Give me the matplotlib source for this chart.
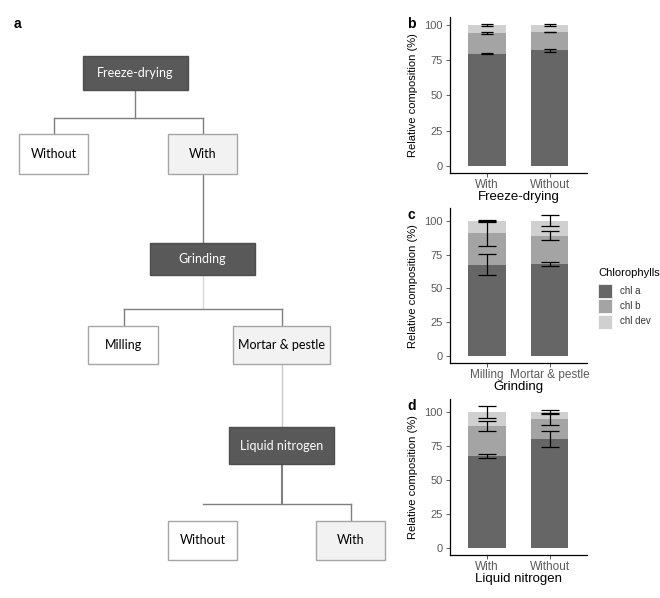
import matplotlib
matplotlib.use("Agg")
import matplotlib.pyplot as plt
from matplotlib.patches import Rectangle
from matplotlib.lines import Line2D
import numpy as np

# ---------------- data ----------------
series_names = ["chl a", "chl b", "chl dev"]
series_colors = ["#666666", "#a4a4a4", "#d0d0d0"]

fd_cats = ["With", "Without"]
fd_chla = [79.8, 82.2]
fd_chlb = [14.3, 12.9]
fd_chldev = [5.9, 4.9]
fd_err_a = [0.3, 1.0]
fd_err_b = [0.7, 0.3]
fd_err_dev = [0.7, 0.8]

gr_cats = ["Milling", "Mortar & pestle"]
gr_chla = [67.5, 67.7]
gr_chlb = [23.1, 21.3]
gr_chldev = [9.4, 11.0]
gr_err_a = [7.9, 1.5]
gr_err_b = [9.1, 3.3]
gr_err_dev = [0.8, 4.1]

ln_cats = ["With", "Without"]
ln_chla = [67.7, 80.4]
ln_chlb = [21.9, 14.7]
ln_chldev = [10.4, 4.9]
ln_err_a = [1.4, 6.0]
ln_err_b = [3.6, 4.5]
ln_err_dev = [4.7, 1.7]

yticks = [0, 25, 50, 75, 100]

# ---------------- figure ----------------
plt.rcParams['font.family'] = ['Liberation Sans', 'DejaVu Sans']
W, H = 660, 598
fig = plt.figure(figsize=(W / 100, H / 100), dpi=100)

# ---------- flowchart (panel a) ----------
fa = fig.add_axes([0, 0, 1, 1], zorder=0)
fa.set_xlim(0, W)
fa.set_ylim(H, 0)
fa.axis("off")

DARK = "#595959"
LIGHT = "#f2f2f2"
BORDER = "#a6a6a6"
box_font = ['Lato', 'DejaVu Sans']

def box(x0, y0, x1, y1, label, style):
    if style == "dark":
        fc, ec, tc = DARK, "#4d4d4d", "white"
    elif style == "light":
        fc, ec, tc = LIGHT, BORDER, "black"
    else:
        fc, ec, tc = "white", BORDER, "black"
    fa.add_patch(Rectangle((x0, y0), x1 - x0, y1 - y0, facecolor=fc,
                           edgecolor=ec, linewidth=1.0, zorder=2))
    fa.text((x0 + x1) / 2, (y0 + y1) / 2, label, color=tc, fontsize=9,
            family=box_font, ha="center", va="center", zorder=3)

def line(xs, ys, color="#7f7f7f", lw=1.0):
    fa.add_line(Line2D(xs, ys, color=color, linewidth=lw, zorder=1))

fa.text(14, 24, "a", fontsize=10, fontweight="bold", family=['Liberation Sans'],
        ha="left", va="center")

# Freeze-drying level
box(83, 56, 188, 90, "Freeze-drying", "dark")
line([135, 135], [90, 118])
line([54, 203], [118, 118])
line([54, 54], [118, 134])
line([203, 203], [118, 134])
box(19, 134, 88, 174, "Without", "white")
box(168, 134, 237, 174, "With", "light")
line([203, 203], [174, 243])

# Grinding level
box(150, 243, 255, 275, "Grinding", "dark")
line([203, 203], [275, 309], color="#d9d9d9")
line([124, 282], [309, 309])
line([124, 124], [309, 326])
line([282, 282], [309, 326])
box(88, 326, 158, 364, "Milling", "white")
box(233, 326, 330, 364, "Mortar & pestle", "light")
line([282, 282], [364, 427], color="#c8c8c8")

# Liquid nitrogen level
box(229, 427, 334, 464, "Liquid nitrogen", "dark")
line([282, 282], [464, 504], color="#7f7f7f", lw=1.5)
line([203, 351], [504, 504])
line([351, 351], [504, 521])
box(168, 521, 237, 560, "Without", "white")
box(316, 521, 385, 560, "With", "light")

# ---------- bar panels ----------
def px_ax(x0, x1, y_top, y_bot):
    return [x0 / W, 1 - y_bot / H, (x1 - x0) / W, (y_bot - y_top) / H]

def bar_panel(rect, cats, a, b, dev, ea, eb, ed, xlabel, letter, capsize):
    ax = fig.add_axes(rect, zorder=2)
    x = np.arange(1, len(cats) + 1)
    a = np.array(a); b = np.array(b); dev = np.array(dev)
    bottoms = [np.zeros_like(a), a, a + b]
    vals = [a, b, dev]
    for v, bt, c in zip(vals, bottoms, series_colors):
        ax.bar(x, v, bottom=bt, width=0.6, color=c, linewidth=0, zorder=2)
    tops = [a, a + b, a + b + dev]
    errs = [ea, eb, ed]
    ymax = 0
    for t, e in zip(tops, errs):
        ax.errorbar(x, t, yerr=e, fmt="none", ecolor="black", elinewidth=0.9,
                    capsize=capsize, capthick=0.9, zorder=3)
        ymax = max(ymax, np.max(t + np.array(e)))
    ax.set_xlim(0.4, len(cats) + 0.6)
    ax.set_ylim(-0.05 * ymax, 1.05 * ymax)
    ax.set_xticks(x)
    ax.set_xticklabels(cats)
    ax.set_yticks(yticks)
    ax.tick_params(axis="both", labelcolor="#5a5a5a",
                   color="#444444", length=3, width=0.6, pad=2)
    ax.tick_params(axis="x", labelsize=8.5, pad=1.5)
    ax.tick_params(axis="y", labelsize=8)
    for s in ["top", "right"]:
        ax.spines[s].set_visible(False)
    for s in ["left", "bottom"]:
        ax.spines[s].set_linewidth(0.9)
        ax.spines[s].set_color("black")
    ax.set_xlabel(xlabel, fontsize=9.5, labelpad=0)
    ax.set_ylabel("Relative composition (%)", fontsize=8)
    ax.yaxis.set_label_coords(-0.23, 0.5)
    ax.text(-0.31, 1.0, letter, transform=ax.transAxes, fontsize=10,
            fontweight="bold", ha="left", va="top")
    return ax

bar_panel(px_ax(449.7, 587, 16.9, 172.8), fd_cats, fd_chla, fd_chlb, fd_chldev,
          fd_err_a, fd_err_b, fd_err_dev, "Freeze-drying", "b", 4)
bar_panel(px_ax(449.7, 587, 208.2, 363.0), gr_cats, gr_chla, gr_chlb, gr_chldev,
          gr_err_a, gr_err_b, gr_err_dev, "Grinding", "c", 6.5)
bar_panel(px_ax(449.7, 587, 398.6, 554.8), ln_cats, ln_chla, ln_chlb, ln_chldev,
          ln_err_a, ln_err_b, ln_err_dev, "Liquid nitrogen", "d", 6.5)

# ---------- legend ----------
fig.text(598 / W, 1 - 273 / H, "Chlorophylls", fontsize=8, ha="left", va="center")
for i, (name, col) in enumerate(zip(series_names, series_colors)):
    yc = 290.5 + i * 15.5
    fig.add_artist(Rectangle((598 / W, 1 - (yc + 7) / H), 14 / W, 14 / H,
                             transform=fig.transFigure, facecolor=col,
                             edgecolor="white", linewidth=0.5))
    fig.text(620 / W, 1 - yc / H, name, fontsize=7, ha="left", va="center",
             color="#333333")

fig.savefig("out.png", dpi=100)
